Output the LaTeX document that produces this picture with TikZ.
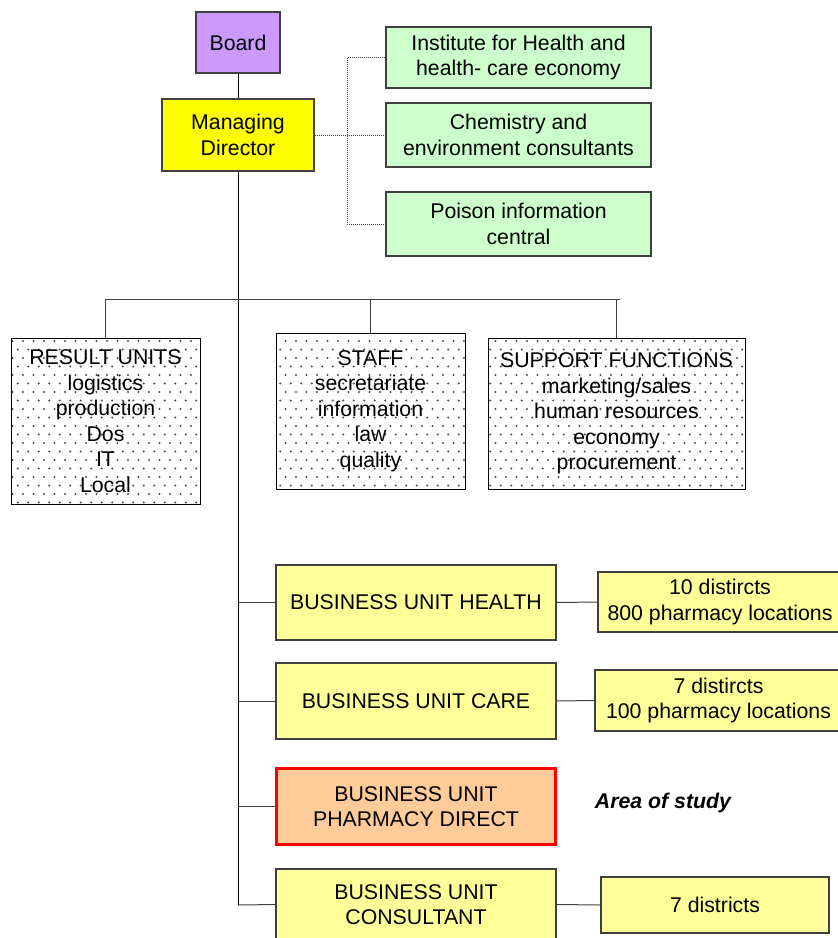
\documentclass[tikz,border=0pt]{standalone}
\usepackage{fontspec}
\setmainfont{Liberation Sans}
\usetikzlibrary{patterns}
\pgfdeclarepatternformonly{sparsedots}{\pgfpoint{-1.5pt}{-1.5pt}}{\pgfpoint{12pt}{18.5pt}}{\pgfpoint{10.5pt}{17pt}}{%
  \pgfpathcircle{\pgfpoint{2pt}{2pt}}{1.1pt}%
  \pgfpathcircle{\pgfpoint{7.25pt}{10.5pt}}{1.1pt}%
  \pgfusepath{fill}}
\definecolor{boardc}{HTML}{CC99FF}
\definecolor{mdc}{HTML}{FFFF00}
\definecolor{greenc}{HTML}{CCFFCC}
\definecolor{buc}{HTML}{FFFF99}
\definecolor{pdc}{HTML}{FFCC99}
\definecolor{edgec}{HTML}{404040}
\tikzset{
  x=1pt,y=1pt,
  every node/.style={font=\fontsize{21.3}{25.5}\selectfont, align=center, inner sep=0pt},
  box/.style={draw=edgec, line width=1.1pt, minimum width=#1},
  dotbox/.style={draw=black, line width=0.8pt, pattern=sparsedots, pattern color=gray!60!black},
  conn/.style={draw=edgec, line width=1pt},
  mainline/.style={draw=black, line width=1pt},
  dotconn/.style={draw=edgec, line width=0.8pt, dash pattern=on 1pt off 1pt},
}
\begin{document}
\begin{tikzpicture}
\useasboundingbox (0,0) rectangle (838,-938);
% top
\node[box=84pt, fill=boardc, minimum height=61pt] (board) at (238,-42.5) {Board};
\node[box=152pt, fill=mdc, minimum height=72pt] (md) at (238,-135) {Managing\\Director};
\node[box=265pt, fill=greenc, minimum height=61pt] (g1) at (518.5,-57.5) {Institute for Health and\\ health- care economy};
\node[box=265pt, fill=greenc, minimum height=64pt] (g2) at (518.5,-135) {Chemistry and\\environment consultants};
\node[box=265pt, fill=greenc, minimum height=64pt] (g3) at (518.5,-224) {Poison information\\central};
% dotted boxes
\node[dotbox, minimum width=189pt, minimum height=166pt] (ru) at (105.5,-421) {RESULT UNITS\\logistics\\production\\Dos\\IT\\Local};
\node[dotbox, minimum width=189pt, minimum height=156pt] (st) at (370.5,-411) {STAFF\\secretariate\\information\\law\\quality};
\node[dotbox, minimum width=257pt, minimum height=151pt] (sf) at (616.5,-413.5) {SUPPORT FUNCTIONS\\marketing/sales\\human resources\\economy\\procurement};
% business units
\node[box=280pt, fill=buc, minimum height=75pt] (buh) at (416,-602.5) {BUSINESS UNIT HEALTH};
\node[box=244pt, fill=buc, minimum height=60pt] (d1) at (720,-602) {10 distircts\\800 pharmacy locations};
\node[box=280pt, fill=buc, minimum height=76pt] (buc) at (416,-701) {BUSINESS UNIT CARE};
\node[box=247pt, fill=buc, minimum height=61pt] (d2) at (718.5,-700.5) {7 distircts\\100 pharmacy locations};
\node[draw=red, line width=2.6pt, fill=pdc, minimum width=279pt, minimum height=76pt] (pd) at (416,-806.5) {BUSINESS UNIT\\PHARMACY DIRECT};
\node[font=\fontsize{21.3}{25.5}\selectfont\bfseries\itshape] (aos) at (663,-803) {Area of study};
\node[box=280pt, fill=buc, minimum height=71pt] (bucons) at (416,-904.5) {BUSINESS UNIT\\CONSULTANT};
\node[box=228pt, fill=buc, minimum height=56pt] (d3) at (715,-905) {7 districts};
% connectors
\coordinate (bot) at (238,-905);
\coordinate (hr) at (620,-299);
\draw[mainline] (board) -- (md);
\draw[mainline] (md.south) -- (bot);
\draw[dotconn] (md.east) -- (g2.west);
\draw[dotconn] (g1.west) -- ++(-38,0) |- (g3.west);
\draw[conn] (ru.north) |- (hr);
\draw[conn] (st.north) -- (st.north |- hr);
\draw[conn] (sf.north) -- (sf.north |- hr);
\draw[conn] (buh.west) -- (buh.west -| bot);
\draw[conn] (buc.west) -- (buc.west -| bot);
\draw[conn] (pd.west) -- (pd.west -| bot);
\draw[conn] (bucons.west) -- (bot);
\draw[conn] (buh.east) -- (d1.west);
\draw[conn] (buc.east) -- (d2.west);
\draw[conn] (bucons.east) -- (d3.west);
\end{tikzpicture}
\end{document}
